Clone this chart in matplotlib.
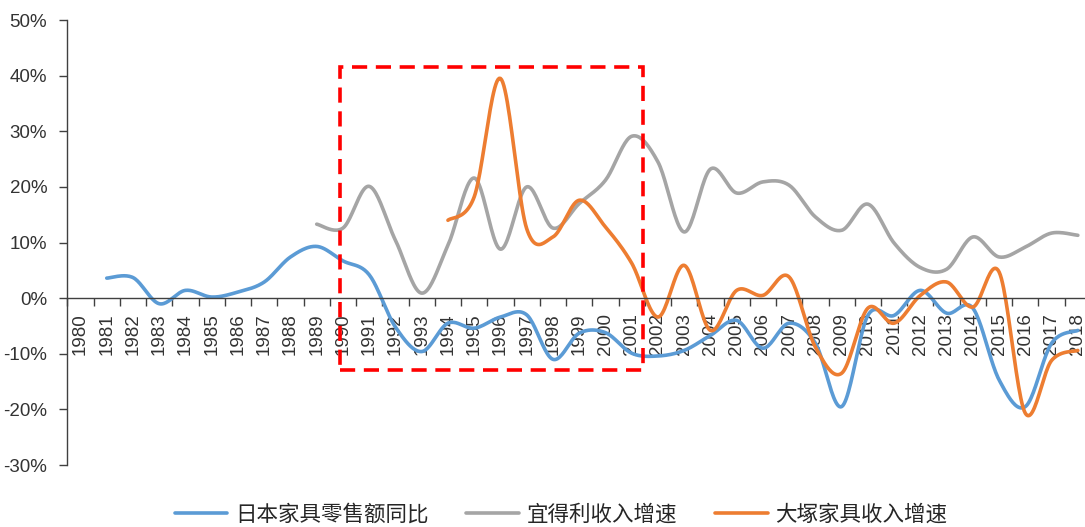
import numpy as np
import matplotlib
matplotlib.use("Agg")
import matplotlib.pyplot as plt
from matplotlib.patches import Rectangle

# Year axis (categories)
years = list(range(1980, 2019))

# 日本家具零售额同比 (%), 1981-2018
japan_years = list(range(1981, 2019))
japan_retail = [3.6, 3.7, -1.0, 1.4, 0.2, 1.1, 2.9, 7.4, 9.3, 6.7,
                4.2, -5.2, -9.6, -4.5, -5.4, -3.4, -3.0, -11.0, -6.3, -6.2,
                -9.9, -10.4, -9.4, -6.7, -4.0, -9.0, -4.5, -8.1, -19.5, -3.1,
                -3.1, 1.4, -2.7, -1.8, -14.7, -19.5, -8.1, -5.8]

# 宜得利收入增速 (%), 1989-2018
nitori_years = list(range(1989, 2019))
nitori_growth = [13.3, 12.6, 20.1, 10.4, 0.9, 9.5, 21.6, 8.8, 20.0, 12.6,
                 17.0, 21.2, 29.1, 24.5, 11.9, 23.2, 18.9, 20.9, 20.3, 14.6,
                 12.2, 16.9, 9.9, 5.5, 5.2, 11.0, 7.4, 9.2, 11.7, 11.3]

# 大塚家具收入增速 (%), 1994-2018
otsuka_years = list(range(1994, 2019))
otsuka_growth = [14.0, 18.2, 39.5, 12.5, 11.0, 17.6, 12.8, 6.3, -3.4, 5.9,
                 -5.8, 1.4, 0.5, 3.8, -8.8, -13.5, -1.8, -4.5, 0.5, 2.9,
                 -1.6, 4.7, -20.7, -11.2, -9.4]

series_names = ["日本家具零售额同比", "宜得利收入增速", "大塚家具收入增速"]
colors = ["#5B9BD5", "#A5A5A5", "#ED7D31"]

# Highlighted period
highlight_years = (1990, 2001)
highlight_range = (-12.9, 41.5)

y_ticks = [-30, -20, -10, 0, 10, 20, 30, 40, 50]


def smooth(xs, ys, n=24):
    """Cubic Bezier smoothing through every point (Catmull-Rom tangents)."""
    pts = np.column_stack([xs, ys]).astype(float)
    out = []
    t = np.linspace(0, 1, n)[:, None]
    for i in range(len(pts) - 1):
        p0 = pts[i - 1] if i > 0 else pts[i]
        p1, p2 = pts[i], pts[i + 1]
        p3 = pts[i + 2] if i + 2 < len(pts) else pts[i + 1]
        c1 = p1 + (p2 - p0) / 6.0
        c2 = p2 - (p3 - p1) / 6.0
        seg = ((1 - t) ** 3) * p1 + 3 * ((1 - t) ** 2) * t * c1 \
            + 3 * (1 - t) * (t ** 2) * c2 + (t ** 3) * p2
        out.append(seg if i == 0 else seg[1:])
    curve = np.vstack(out)
    return curve[:, 0], curve[:, 1]


def idx(yr_list):
    return [years.index(y) for y in yr_list]


plt.rcParams["font.family"] = ["Liberation Sans", "Noto Sans CJK SC", "DejaVu Sans"]

fig = plt.figure(figsize=(10.85, 5.27), dpi=100)
ax = fig.add_axes([0.0621, 0.1176, 0.9434, 0.8444])

axis_color = "#404040"
text_color = "#333333"

lines = []
for yrs, vals, name, col in [(japan_years, japan_retail, series_names[0], colors[0]),
                             (nitori_years, nitori_growth, series_names[1], colors[1]),
                             (otsuka_years, otsuka_growth, series_names[2], colors[2])]:
    sx, sy = smooth(idx(yrs), vals)
    ln, = ax.plot(sx, sy, color=col, lw=2.6, label=name,
                  solid_capstyle="round", solid_joinstyle="round")
    lines.append(ln)

ax.set_xlim(-0.5, len(years) - 0.5)
ax.set_ylim(-30, 50)

# Spines
for s in ["top", "right"]:
    ax.spines[s].set_visible(False)
ax.spines["bottom"].set_position(("data", 0))
ax.spines["bottom"].set_color(axis_color)
ax.spines["left"].set_color(axis_color)
ax.spines["bottom"].set_linewidth(1.0)
ax.spines["left"].set_linewidth(1.0)

# Y axis
ax.set_yticks(y_ticks)
ax.set_yticklabels([f"{v}%" for v in y_ticks])
ax.tick_params(axis="y", direction="out", length=6, width=1.0, color=axis_color,
               labelsize=13.5, labelcolor=text_color, pad=8.5)

# X axis: labels at category centres, tick marks on boundaries
ax.set_xticks(range(len(years)))
ax.set_xticklabels([str(y) for y in years], rotation=90, va="top", ha="center")
ax.set_xticks(np.arange(-0.5, len(years), 1.0), minor=True)
ax.tick_params(axis="x", which="major", length=0, labelsize=13.5, labelcolor=text_color, pad=11)
ax.tick_params(axis="x", which="minor", direction="out", length=6, width=1.0, color=axis_color)

# Dashed frame around the highlighted period
x0 = years.index(highlight_years[0]) - 0.1
x1 = years.index(highlight_years[1]) + 0.43
rect = Rectangle((x0, highlight_range[0]), x1 - x0, highlight_range[1] - highlight_range[0],
                 fill=False, edgecolor="#FF0000", lw=2.6, linestyle=(0, (4.2, 2.4)),
                 clip_on=False, zorder=5)
ax.add_patch(rect)

# Legend
leg = fig.legend(handles=lines, loc="center", bbox_to_anchor=(561 / 1085, 1 - 515 / 527),
                 ncol=3, frameon=False, handlelength=2.45, handletextpad=0.36,
                 columnspacing=1.75, borderpad=0.2,
                 prop={"family": ["Noto Sans CJK SC", "DejaVu Sans"], "size": 15.5})
for t in leg.get_texts():
    t.set_color("#262626")

fig.savefig("out.png", dpi=100)
